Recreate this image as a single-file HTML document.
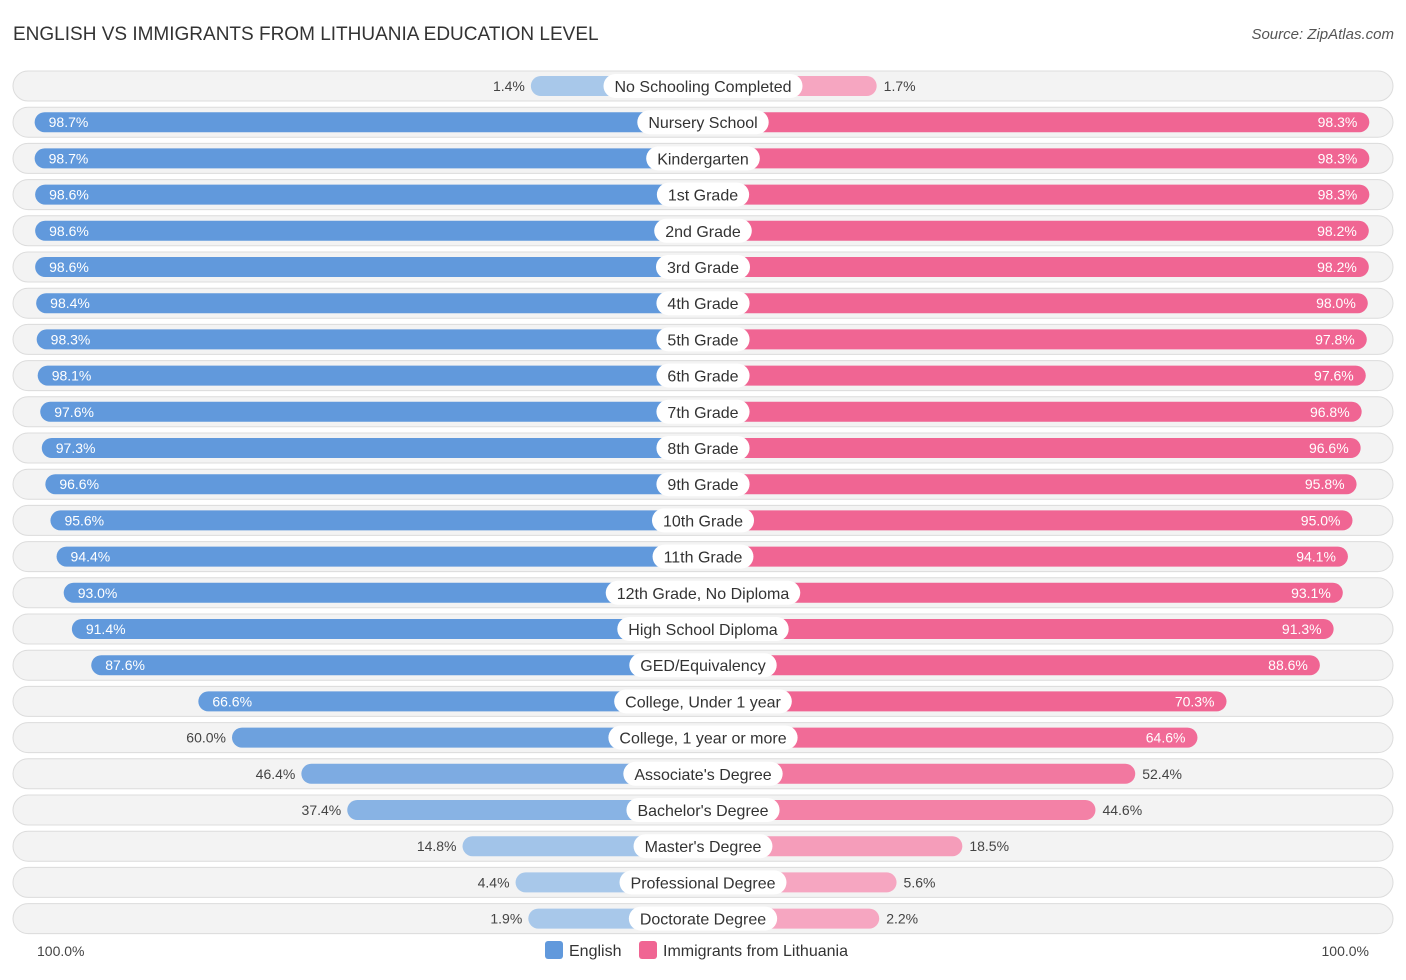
<!DOCTYPE html>
<html><head><meta charset="utf-8"><style>
body{margin:0;background:#fff;font-family:"Liberation Sans",sans-serif}
svg text{font-family:"Liberation Sans",sans-serif}
</style></head><body>
<svg id="c" width="1406" height="975" xmlns="http://www.w3.org/2000/svg">
<text x="13" y="40" font-size="19" fill="#333">ENGLISH VS IMMIGRANTS FROM LITHUANIA EDUCATION LEVEL</text>
<text x="1394" y="39" font-size="15" fill="#555" font-style="italic" text-anchor="end">Source: ZipAtlas.com</text>
<g id="rows"></g>
<text x="37" y="956" font-size="14" fill="#444">100.0%</text>
<text x="1369" y="956" font-size="14" fill="#444" text-anchor="end">100.0%</text>
<g>
<rect x="545" y="941" width="18" height="18" rx="3" fill="#6199dc"/>
<text x="569" y="956" font-size="16" fill="#333">English</text>
<rect x="639" y="941" width="18" height="18" rx="3" fill="#f06593"/>
<text x="663" y="956" font-size="16" fill="#333">Immigrants from Lithuania</text>
</g>
</svg>
<script>
const categories=["No Schooling Completed","Nursery School","Kindergarten","1st Grade","2nd Grade","3rd Grade","4th Grade","5th Grade","6th Grade","7th Grade","8th Grade","9th Grade","10th Grade","11th Grade","12th Grade, No Diploma","High School Diploma","GED/Equivalency","College, Under 1 year","College, 1 year or more","Associate's Degree","Bachelor's Degree","Master's Degree","Professional Degree","Doctorate Degree"];
const englishValues=[1.4,98.7,98.7,98.6,98.6,98.6,98.4,98.3,98.1,97.6,97.3,96.6,95.6,94.4,93.0,91.4,87.6,66.6,60.0,46.4,37.4,14.8,4.4,1.9];
const immigrantValues=[1.7,98.3,98.3,98.3,98.2,98.2,98.0,97.8,97.6,96.8,96.6,95.8,95.0,94.1,93.1,91.3,88.6,70.3,64.6,52.4,44.6,18.5,5.6,2.2];
const NS="http://www.w3.org/2000/svg";
const g=document.getElementById('rows');
const cx=703,c0=165,k=5.1,y0=86,dy=36.2;
function xl(v){return cx-(c0+v*k);}
function xr(v){return cx+(c0+v*k);}
function yp(i){return y0+i*dy;}
function mix(a,b,t){return 'rgb('+a.map((x,j)=>Math.round(x+(b[j]-x)*t)).join(',')+')';}
function el(tag,attrs){const e=document.createElementNS(NS,tag);for(const a in attrs)e.setAttribute(a,attrs[a]);return e;}
categories.forEach((cat,i)=>{
  const y=yp(i);
  const bg=el('rect',{x:13,y:y-15,width:1380,height:30,rx:15,fill:'#f3f3f3',stroke:'#dcdcdc'});
  
  
  g.appendChild(bg);
  const ev=englishValues[i],iv=immigrantValues[i];
  const te=Math.min(1,Math.max(0,(ev-10)/60)),ti=Math.min(1,Math.max(0,(iv-10)/60));
  const lb=el('rect',{x:xl(ev),y:y-10,width:cx-xl(ev),height:20,rx:10,fill:mix([168,200,234],[97,153,220],te)});
  
  
  g.appendChild(lb);
  const rb=el('rect',{x:cx,y:y-10,width:xr(iv)-cx,height:20,rx:10,fill:mix([246,166,193],[240,101,147],ti)});
  
  
  g.appendChild(rb);
  const ins=ev>62;
  const lt=el('text',{x:ins?xl(ev)+14:xl(ev)-6,y:y+5,'font-size':14,fill:ins?'#fff':'#444','text-anchor':ins?'start':'end'});
  lt.textContent=ev.toFixed(1)+'%';
  
  
  g.appendChild(lt);
  const ins2=iv>62;
  const rt=el('text',{x:ins2?xr(iv)-12:xr(iv)+7,y:y+5,'font-size':14,fill:ins2?'#fff':'#444','text-anchor':ins2?'end':'start'});
  rt.textContent=iv.toFixed(1)+'%';
  
  
  g.appendChild(rt);
  const lab=el('text',{x:cx,y:y+6,'font-size':16,fill:'#333','text-anchor':'middle'});
  lab.textContent=cat;
  
  
  g.appendChild(lab);
  const w=lab.getComputedTextLength()+22;
  const pill=el('rect',{x:cx-w/2,y:y-12,width:w,height:24,rx:12,fill:'#fff'});
  
  
  g.insertBefore(pill,lab);
});
</script>
</body></html>
